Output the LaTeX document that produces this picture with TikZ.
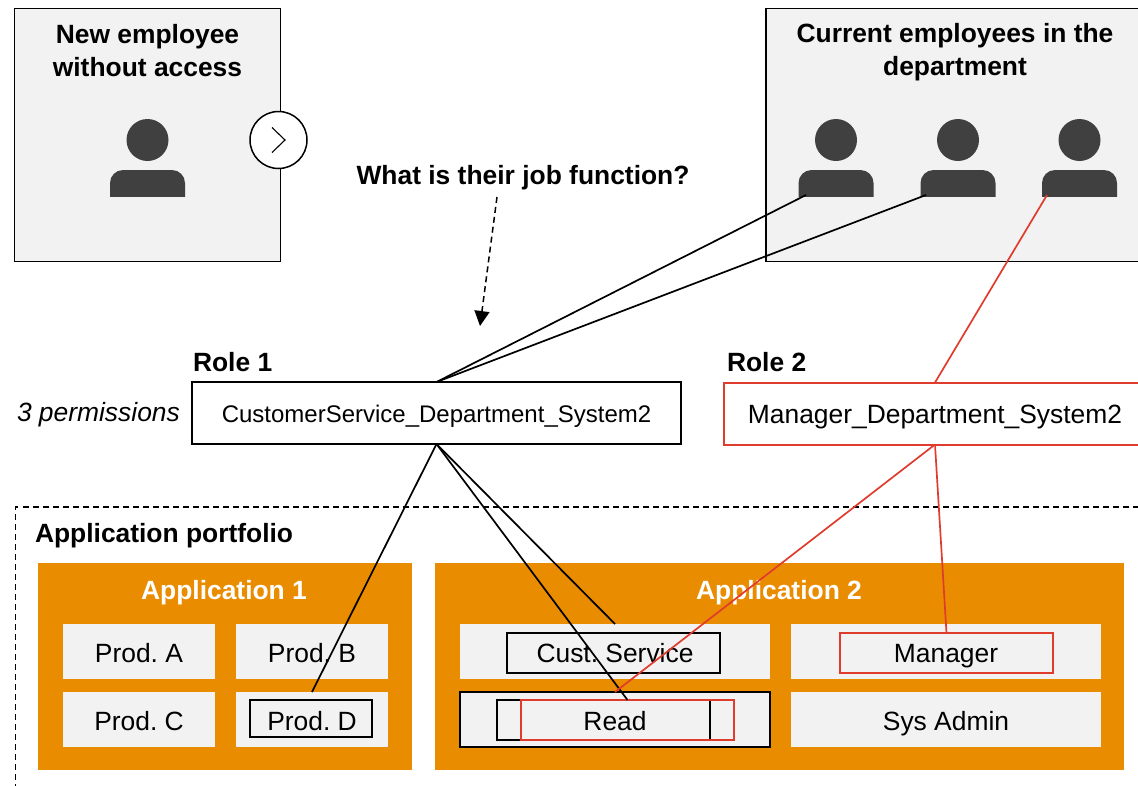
\documentclass[tikz,border=0pt]{standalone}
\usepackage{fontspec}
\setmainfont{Liberation Sans}
\frenchspacing
\usetikzlibrary{arrows.meta}
\definecolor{panel}{HTML}{F2F2F2}
\definecolor{ink}{HTML}{404040}
\definecolor{appor}{HTML}{EA8C00}
\definecolor{redl}{HTML}{E03C2D}
\tikzset{
 x=1pt,y=-1pt,
 box/.style={draw,rectangle,inner sep=0pt,outer sep=0pt},
 panelbox/.style={box,fill=panel,line width=1.8pt},
 cell/.style={rectangle,fill=panel,inner sep=0pt,outer sep=0pt,minimum width=#1,minimum height=55pt},
 cell/.default=152pt,
 inner/.style={box,line width=2pt,minimum height=#1},
 rolebox/.style={box,fill=white,line width=2pt,minimum height=62pt},
 app/.style={rectangle,fill=appor,inner sep=0pt,outer sep=0pt,minimum height=207pt},
 body/.style={font=\fontsize{26.4}{33}\selectfont,inner sep=0pt,outer sep=0pt},
 title/.style={font=\bfseries\fontsize{26.4}{33}\selectfont,inner sep=0pt,outer sep=0pt},
 lbl/.style={title,anchor=west},
 wt/.style={title,text=white},
 conn/.style={line width=1.7pt,black},
 connr/.style={line width=1.7pt,redl},
}
\newcommand{\personicon}[1]{%
 \fill[ink] (#1,140) circle (21);
 \fill[ink,rounded corners=13pt] (#1-37.5,215) -- (#1-37.5,170) -- (#1+37.5,170) -- (#1+37.5,215) -- cycle;
}
\begin{document}
\begin{tikzpicture}
\useasboundingbox (0,0) rectangle (1138,785);
\clip (0,0) rectangle (1138,785);
% top panels
\node[panelbox,minimum width=266pt,minimum height=253pt] (newbox) at (147.5,135) {};
\node[panelbox,minimum width=400pt,minimum height=253pt,anchor=north west] (curbox) at (766,8.5) {};
\node[title,align=center] (newt) at (147.5,51) {New employee\\without access};
\node[title,align=center] (curt) at (955,52.5) {Current employees in the\\department};
\begin{scope}
\clip (0,100) rectangle (1138,196);
\personicon{147.5}
\personicon{836}
\personicon{958}
\personicon{1079.5}
\end{scope}
\node[draw,circle,fill=white,line width=1.5pt,minimum size=57pt,inner sep=0pt] (nxt) at (278.5,140) {};
\draw[line width=1.1pt] (272,127.5) -- (285,140) -- (272,152.5);
\node[title] (q) at (523,178) {What is their job function?};
\coordinate (qs) at (497,197);
\coordinate (qe) at (480,326);
\draw[line width=1.5pt,dash pattern=on 6pt off 4pt,-{Triangle[length=15pt,width=15pt]}] (qs) -- (qe);
% portfolio
\coordinate (pa) at (15.5,800);
\coordinate (pb) at (15.5,507);
\coordinate (pc) at (1160,507);
\draw[line width=1.4pt,dash pattern=on 6pt off 4pt] (pa) -- (pb) -- (pc);
\node[lbl] (pl) at (35,536) {Application portfolio};
\node[app,minimum width=374pt] (a1) at (225,666.5) {};
\node[app,minimum width=689pt] (a2) at (779.5,666.5) {};
\node[wt] (a1t) at (224,593) {Application 1};
\node[wt] (a2t) at (779,593) {Application 2};
\node[cell] (pA) at (139,651.5) {};
\node[cell] (pB) at (312,651.5) {};
\node[cell] (pC) at (139,719.5) {};
\node[cell] (pD) at (312,719.5) {};
\node[cell=310pt] (cs) at (615,651.5) {};
\node[cell=310pt] (mg) at (946,651.5) {};
\node[cell=310pt,draw=black,line width=1.8pt] (rd) at (615,719.5) {};
\node[cell=310pt] (sa) at (946,719.5) {};
\node[inner=37pt,minimum width=122pt] (pDi) at (311,718.5) {};
\node[inner=40pt,minimum width=213pt] (csi) at (613.5,653) {};
\node[inner=40pt,minimum width=213pt,draw=redl] (mgi) at (946.5,653) {};
\node[inner=40pt,minimum width=213pt] (rdb) at (603.5,720) {};
\node[inner=40pt,minimum width=213pt,draw=redl] (rdr) at (627.5,720) {};
\foreach \n/\t/\x/\y in {pA/Prod. A/139/652.5,pB/Prod. B/312/652.5,pC/Prod. C/139/720.5,pD/Prod. D/312/720.5,cs/Cust. Service/615/652.5,mg/Manager/946/652.5,rd/Read/615/720.5,sa/Sys Admin/946/720.5}
  \node[body,text height=19pt,text depth=0pt] (\n t) at (\x,\y) {\t};
% roles
\node[rolebox,minimum width=489pt] (r1) at (436.5,413) {};
\node[rolebox,minimum width=422pt,draw=redl] (r2) at (935,413.5) {};
\node[inner sep=0pt,font=\fontsize{24}{30}\selectfont] (r1t) at (436.5,416) {CustomerService\_Department\_System2};
\node[body] (r2t) at (935,417.5) {Manager\_Department\_System2};
\node[lbl] (r1l) at (193,362.5) {Role 1};
\node[lbl] (r2l) at (727,362.5) {Role 2};
\node[body,font=\itshape\fontsize{26.4}{33}\selectfont,anchor=west] (perm) at (17,415) {3 permissions};
% connectors
\coordinate (p1) at (806,195);
\coordinate (p2) at (926,195);
\coordinate (p3) at (1047,195);
\draw[conn] (r1.north) -- (p1);
\draw[conn] (r1.north) -- (p2);
\draw[connr] (r2.north) -- (p3);
\draw[conn] (r1.south) -- (pD.north);
\draw[conn] (r1.south) -- (cs.north);
\draw[conn] (r1.south) -- (rdr.north);
\draw[connr] (r2.south) -- (rd.north);
\draw[connr] (r2.south) -- (mgi.north);
\end{tikzpicture}
\end{document}
